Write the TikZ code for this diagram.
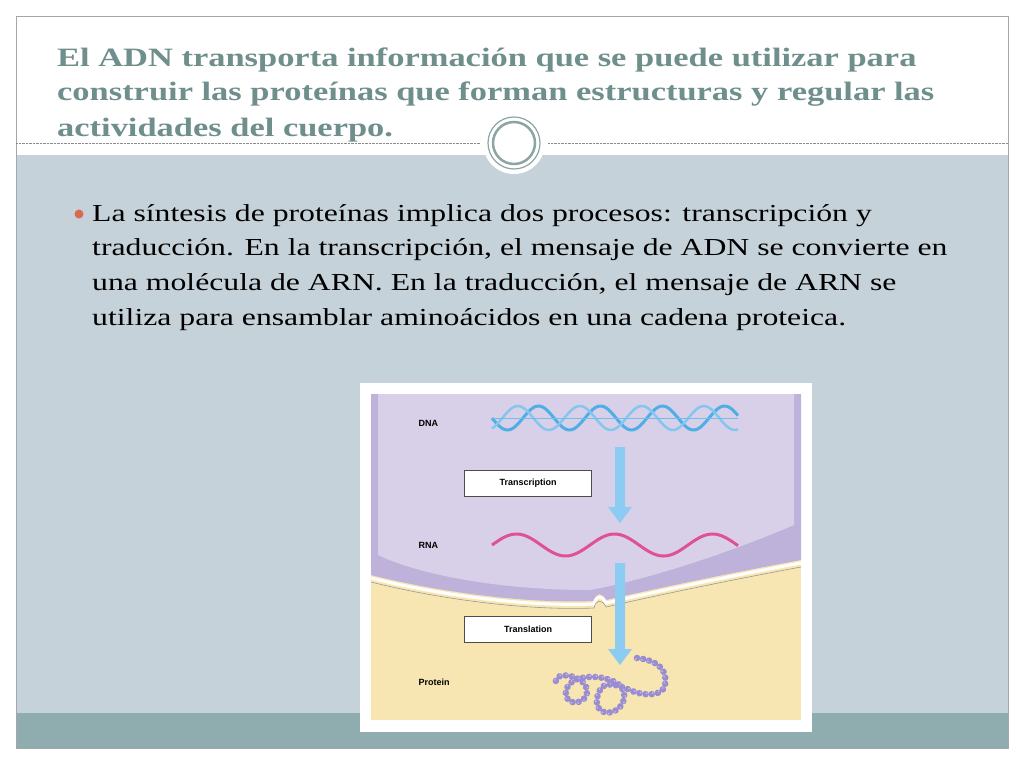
\documentclass[tikz,border=0pt]{standalone}
\usepackage{fontspec}
\setmainfont[FakeStretch=1.3]{Liberation Serif}
\setsansfont{Liberation Sans}
\usetikzlibrary{decorations.markings}
\definecolor{titlec}{HTML}{6F8F8C}
\definecolor{bodyc}{HTML}{C6D2D9}
\definecolor{barc}{HTML}{8FADAE}
\definecolor{bullc}{HTML}{D9694F}
\definecolor{purp}{HTML}{D8D0E8}
\definecolor{purpd}{HTML}{BFB2DA}
\definecolor{yel}{HTML}{F8E6B2}
\definecolor{dnac}{HTML}{4FAEE6}
\definecolor{rnac}{HTML}{E0509A}
\definecolor{arrc}{HTML}{8CCBF2}
\definecolor{bead}{HTML}{9A8CD0}
\tikzset{lbl/.style={font=\sffamily\bfseries\fontsize{9}{10}\selectfont,anchor=west},
 stepbox/.style={draw=black!70,fill=white,minimum width=127pt,minimum height=26pt,inner sep=0pt,font=\sffamily\bfseries\fontsize{9}{10}\selectfont},
 ttl/.style={anchor=base west,inner sep=0pt,text=titlec,font=\bfseries\fontsize{26.5}{30}\selectfont},
 bod/.style={anchor=base west,inner sep=0pt,font=\fontsize{24.4}{28}\selectfont}}
\begin{document}
\begin{tikzpicture}[x=1pt,y=-1pt]
\useasboundingbox (0,0) rectangle (1024,766);
\fill[white] (0,0) rectangle (1024,766);
\fill[bodyc] (16,155) rectangle (1008,713);
\fill[barc] (16,713) rectangle (1008,748);
\draw[black!35] (16,16) rectangle (1008,748);
\draw[black!45,densely dotted] (16,143) -- (480,143);
\draw[black!45,densely dotted] (548,143) -- (1008,143);
\fill[white] (514,143) circle (31);
\draw[titlec!80,line width=2.5pt] (514,143) circle (21);
\draw[titlec!80,line width=1.2pt] (514,143) circle (26);
\node[ttl] (t1) at (57,66) {El ADN transporta información que se puede utilizar para};
\node[ttl] (t2) at (57,100) {construir las proteínas que forman estructuras y regular las};
\node[ttl] (t3) at (57,136) {actividades del cuerpo.};
\fill[bullc] (79,214) circle (4.5);
\node[bod] (b1) at (92,221) {La síntesis de proteínas implica dos procesos: transcripción y};
\node[bod] (b2) at (92,255) {traducción. En la transcripción, el mensaje de ADN se convierte en};
\node[bod] (b3) at (92,290) {una molécula de ARN. En la traducción, el mensaje de ARN se};
\node[bod] (b4) at (92,325) {utiliza para ensamblar aminoácidos en una cadena proteica.};
% figure
\fill[white] (360,383) rectangle (812,732);
\fill[yel] (371,394) rectangle (801,720);
\fill[purpd] (371,394) -- (801,394) -- (801,560) .. controls (720,575) and (650,590) .. (606,600)
  .. controls (602,592) and (596,592) .. (594,601) .. controls (520,604) and (430,590) .. (371,575) -- cycle;
\fill[purp] (378,394) -- (794,394) -- (794,525) .. controls (700,565) and (620,585) .. (590,590)
  .. controls (500,590) and (420,575) .. (378,555) -- cycle;
\draw[white,line width=3pt] (801,563) .. controls (720,578) and (650,593) .. (606,603)
  .. controls (602,595) and (596,595) .. (594,604) .. controls (520,607) and (430,593) .. (371,578);
\draw[black!40,line width=0.6pt] (801,567) .. controls (720,582) and (650,597) .. (606,607)
  .. controls (602,599) and (596,599) .. (594,608) .. controls (520,611) and (430,597) .. (371,582);
\node[lbl] (dna) at (415,423) {DNA};
\node[lbl] (rna) at (415,545) {RNA};
\node[lbl] (prot) at (415,682) {Protein};
\node[stepbox] (tr) at (528,483) {Transcription};
\node[stepbox] (tl) at (528,629) {Translation};
\draw[dnac,line width=3pt,domain=0:246,samples=120,smooth] plot ({492+\x},{418+12*sin(\x*5.806)});
\draw[dnac!70!white,line width=2.5pt,domain=0:246,samples=120,smooth] plot ({492+\x},{418+12*sin(\x*5.806+120)});
\draw[dnac!80,line width=0.6pt] (492,418) -- (738,418);
\draw[rnac,line width=3pt,domain=0:246,samples=100,smooth] plot ({492+\x},{545-11*sin(\x*3.673)});
\coordinate (a1s) at (620,447); \coordinate (a1e) at (620,523);
\coordinate (a2s) at (620,563); \coordinate (a2e) at (620,665);
\fill[arrc] ([xshift=-5pt]a1s) -- ([xshift=5pt]a1s) -- ([xshift=5pt,yshift=16pt]a1e) -- ([xshift=12pt,yshift=16pt]a1e) -- (a1e) -- ([xshift=-12pt,yshift=16pt]a1e) -- ([xshift=-5pt,yshift=16pt]a1e) -- cycle;
\fill[arrc] ([xshift=-5pt]a2s) -- ([xshift=5pt]a2s) -- ([xshift=5pt,yshift=16pt]a2e) -- ([xshift=12pt,yshift=16pt]a2e) -- (a2e) -- ([xshift=-12pt,yshift=16pt]a2e) -- ([xshift=-5pt,yshift=16pt]a2e) -- cycle;
\draw[decoration={markings,mark=between positions 0 and 1 step 6.2pt with {\fill[bead] (0,0) circle (3.3pt); \fill[white,opacity=0.4] (-1pt,-1pt) circle (1pt);}},decorate]
 (637,658) .. controls (655,660) and (668,668) .. (665,685)
 .. controls (662,698) and (640,695) .. (630,690)
 .. controls (620,686) and (605,680) .. (600,690)
 .. controls (592,705) and (600,715) .. (612,712)
 .. controls (625,708) and (630,690) .. (615,682)
 .. controls (600,675) and (585,676) .. (575,680)
 .. controls (560,688) and (565,705) .. (578,702)
 .. controls (592,698) and (590,680) .. (570,676)
 .. controls (560,674) and (555,678) .. (556,682);
\end{tikzpicture}
\end{document}
